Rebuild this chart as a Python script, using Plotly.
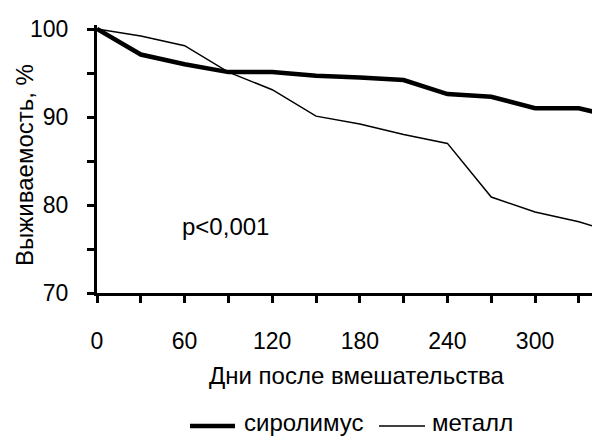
import plotly.graph_objects as go

days = [0, 30, 60, 90, 120, 150, 180, 210, 240, 270, 300, 330, 340]
sirolimus = [100, 97.1, 96.0, 95.1, 95.1, 94.7, 94.5, 94.2, 92.6, 92.3, 91.0, 91.0, 90.6]
metal = [100, 99.2, 98.1, 95.1, 93.1, 90.1, 89.2, 88.0, 87.0, 80.9, 79.2, 78.1, 77.6]
series_names = ["сиролимус", "металл"]
x_ticks = [0, 60, 120, 180, 240, 300]
y_ticks = [70, 80, 90, 100]

FONT = "Liberation Sans, Arial, sans-serif"
FS_TICK = 23
FS_TEXT = 24
WIDTHS = [4.5, 1.5]

fig = go.Figure()
fig.add_trace(go.Scatter(x=days, y=sirolimus, mode="lines", name=series_names[0],
                         line=dict(color="black", width=WIDTHS[0])))
fig.add_trace(go.Scatter(x=days, y=metal, mode="lines", name=series_names[1],
                         line=dict(color="black", width=WIDTHS[1])))

W, H = 592, 438
L, R, T, B = 97, 0, 25, 145
plot_w = W - L - R
plot_h = H - T - B
ppu = 264 / 30.0
ytop = 70 + plot_h / ppu

def px_to_paper_x(px):
    return (px - L) / plot_w

def px_to_paper_y(py):
    return (H - B - py) / plot_h

# manual legend (line samples + labels)
legend_items = [
    dict(x0=190, x1=235, tx=243),
    dict(x0=379, x1=425, tx=431),
]
shapes = []
annotations = []
for name, w, it in zip(series_names, WIDTHS, legend_items):
    shapes.append(dict(type="line", xref="paper", yref="paper",
                       x0=px_to_paper_x(it["x0"]), x1=px_to_paper_x(it["x1"]),
                       y0=px_to_paper_y(426), y1=px_to_paper_y(426),
                       line=dict(color="black", width=w)))
    annotations.append(dict(text=name, xref="paper", yref="paper",
                            x=px_to_paper_x(it["tx"]), y=px_to_paper_y(422),
                            xanchor="left", yanchor="middle", showarrow=False,
                            borderpad=0, font=dict(size=FS_TEXT)))

annotations += [
    dict(text="Дни после вмешательства", xref="paper", yref="paper",
         x=px_to_paper_x(357), y=px_to_paper_y(375), xanchor="center",
         yanchor="middle", showarrow=False, font=dict(size=FS_TEXT)),
    dict(text="Выживаемость, %", xref="paper", yref="paper",
         x=px_to_paper_x(24), y=px_to_paper_y(165), xanchor="center",
         yanchor="middle", textangle=-90, showarrow=False, font=dict(size=FS_TEXT)),
    dict(text="p<0,001", xref="x", yref="y", x=88, y=77.6,
         xanchor="center", yanchor="middle", showarrow=False, font=dict(size=FS_TEXT)),
]

fig.update_layout(
    width=W, height=H,
    margin=dict(l=L, r=R, t=T, b=B, pad=0, autoexpand=False),
    paper_bgcolor="white", plot_bgcolor="white",
    font=dict(family=FONT, size=FS_TEXT, color="black"),
    showlegend=False,
    xaxis=dict(range=[0, 339], tickmode="array", tickvals=x_ticks,
               ticktext=[str(v) for v in x_ticks],
               showline=True, linecolor="black", linewidth=3,
               ticks="outside", ticklen=7, tickwidth=3, tickcolor="black",
               minor=dict(tickmode="linear", tick0=0, dtick=30, ticks="outside",
                          ticklen=7, tickwidth=3, tickcolor="black", showgrid=False),
               showgrid=False, zeroline=False, ticklabelstandoff=18,
               automargin=False, tickfont=dict(size=FS_TICK)),
    yaxis=dict(range=[70, ytop], tickmode="array", tickvals=y_ticks,
               ticktext=[str(v) for v in y_ticks],
               showline=True, linecolor="black", linewidth=3,
               ticks="outside", ticklen=7, tickwidth=3, tickcolor="black",
               minor=dict(tickmode="linear", tick0=70, dtick=5, ticks="outside",
                          ticklen=7, tickwidth=3, tickcolor="black", showgrid=False),
               showgrid=False, zeroline=False, ticklabelstandoff=14,
               automargin=False, tickfont=dict(size=FS_TICK)),
    shapes=shapes,
    annotations=annotations,
)

fig.write_html(
    "out.html",
    config={"displayModeBar": False},
    post_script="document.body.style.margin='0';document.body.style.padding='0';"
                "document.body.style.overflow='hidden';"
                "document.documentElement.style.overflow='hidden';",
)
